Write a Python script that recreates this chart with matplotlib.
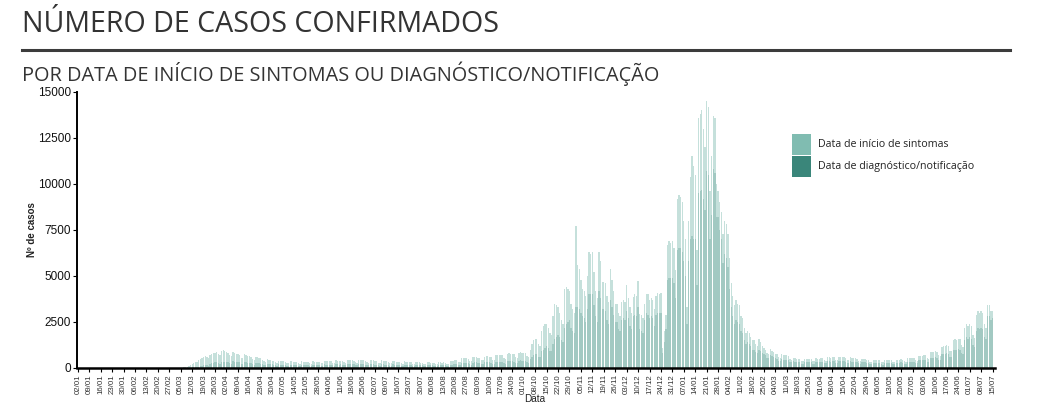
import numpy as np
import pandas as pd
import matplotlib
matplotlib.use('Agg')
import matplotlib.pyplot as plt
from matplotlib.patches import Rectangle
from matplotlib.lines import Line2D

start_date = '2020-01-02'

# Daily cases by date of symptom onset (one row per week, Thu..Wed)
sintomas = [
    0, 0, 0, 0, 0, 0, 0,
    0, 0, 0, 0, 0, 0, 0,
    0, 0, 0, 0, 0, 0, 0,
    0, 0, 0, 0, 0, 0, 0,
    0, 0, 0, 0, 0, 0, 0,
    0, 0, 0, 0, 0, 0, 0,
    0, 0, 0, 0, 0, 0, 0,
    0, 0, 0, 0, 0, 1, 0,
    1, 0, 2, 3, 5, 8, 10,
    15, 22, 30, 45, 70, 110, 150,
    210, 260, 300, 350, 430, 500, 560,
    620, 650, 600, 560, 720, 780, 800,
    820, 850, 760, 700, 930, 960, 900,
    880, 840, 720, 640, 860, 820, 780,
    760, 700, 560, 520, 740, 700, 660,
    640, 600, 500, 440, 620, 580, 560,
    520, 460, 380, 340, 480, 440, 420,
    400, 380, 300, 270, 400, 380, 360,
    360, 340, 270, 250, 380, 360, 340,
    340, 320, 260, 240, 360, 350, 330,
    330, 320, 250, 230, 360, 350, 330,
    350, 340, 270, 250, 390, 380, 360,
    380, 360, 290, 270, 420, 400, 380,
    400, 380, 300, 280, 450, 430, 410,
    420, 400, 310, 290, 460, 440, 420,
    410, 390, 300, 280, 450, 430, 410,
    380, 360, 290, 270, 420, 400, 380,
    360, 340, 270, 250, 390, 370, 350,
    340, 320, 260, 240, 370, 350, 330,
    320, 300, 240, 220, 340, 320, 300,
    290, 280, 220, 200, 320, 300, 290,
    280, 270, 210, 200, 310, 300, 290,
    300, 290, 230, 220, 360, 370, 380,
    420, 430, 350, 330, 520, 540, 550,
    520, 500, 400, 380, 580, 590, 600,
    560, 540, 430, 410, 620, 640, 630,
    600, 580, 460, 430, 680, 690, 680,
    700, 680, 540, 500, 780, 800, 780,
    760, 740, 580, 540, 840, 850, 820,
    820, 800, 640, 600, 1000, 1300, 1500,
    1600, 1550, 1300, 1200, 2000, 2300, 2400,
    2400, 2200, 1900, 1800, 2800, 3500, 3400,
    3300, 3000, 2600, 2400, 4300, 4400, 4300,
    4200, 3500, 3200, 3000, 7700, 5600, 5400,
    4800, 4300, 4200, 3900, 5000, 6300, 6200,
    6300, 5200, 4200, 3800, 6300, 5800, 4700,
    4700, 4600, 3900, 3600, 5400, 4800, 4200,
    3500, 3500, 3000, 2800, 3600, 3700, 3600,
    4500, 3800, 3300, 3000, 3850, 4000, 3900,
    4750, 2950, 2900, 2700, 3500, 4000, 4000,
    3700, 3800, 3700, 3200, 3900, 4100, 4000,
    4100, 1100, 2000, 2900, 6700, 6900, 6800,
    6900, 6500, 5300, 9200, 9400, 9300, 9000,
    8000, 7000, 3300, 8000, 10400, 11500, 11000,
    10500, 6400, 13600, 13800, 14000, 13000, 12000,
    14500, 14200, 9600, 11500, 13700, 13600, 10000,
    9600, 9000, 8500, 7300, 8000, 7800, 7300,
    6000, 4600, 3900, 3400, 3700, 3500, 3400,
    2800, 2700, 2200, 1900, 2000, 1900, 1700,
    1500, 1500, 1300, 1200, 1600, 1400, 1200,
    1100, 1000, 800, 740, 1050, 950, 850,
    780, 760, 600, 560, 780, 700, 690,
    690, 640, 500, 460, 560, 520, 500,
    500, 490, 380, 360, 510, 500, 490,
    500, 480, 380, 360, 520, 500, 490,
    560, 540, 420, 400, 600, 580, 560,
    600, 580, 460, 430, 620, 600, 580,
    600, 560, 440, 420, 580, 560, 540,
    540, 500, 400, 380, 500, 480, 470,
    450, 430, 340, 320, 440, 430, 420,
    420, 410, 320, 300, 430, 420, 410,
    420, 410, 330, 310, 460, 450, 440,
    480, 460, 360, 340, 540, 530, 520,
    560, 540, 430, 400, 640, 650, 640,
    700, 680, 540, 500, 850, 880, 860,
    900, 880, 700, 660, 1150, 1200, 1180,
    1250, 1200, 950, 900, 1500, 1550, 1500,
    1600, 1550, 1250, 1150, 2200, 2400, 2300,
    2400, 2300, 1800, 1650, 2900, 3100, 3000,
    3100, 3000, 2400, 2200, 3450, 3400, 3100,
    3100,
]

# Daily cases by date of diagnosis / notification
diagnostico = [
    0, 0, 0, 0, 0, 0, 0,
    0, 0, 0, 0, 0, 0, 0,
    0, 0, 0, 0, 0, 0, 0,
    0, 0, 0, 0, 0, 0, 0,
    0, 0, 0, 0, 0, 0, 0,
    0, 0, 0, 0, 0, 0, 0,
    0, 0, 0, 0, 0, 0, 0,
    0, 0, 0, 0, 0, 0, 0,
    0, 0, 0, 0, 0, 1, 1,
    2, 3, 5, 8, 12, 15, 20,
    30, 40, 50, 60, 80, 100, 130,
    150, 180, 150, 120, 220, 260, 280,
    300, 320, 250, 200, 330, 350, 340,
    350, 330, 260, 220, 360, 340, 320,
    320, 300, 230, 200, 320, 300, 290,
    280, 260, 200, 180, 280, 260, 250,
    240, 220, 170, 150, 230, 220, 210,
    200, 190, 150, 130, 200, 190, 180,
    180, 170, 130, 120, 190, 180, 170,
    170, 160, 120, 110, 180, 170, 160,
    170, 160, 120, 110, 180, 170, 160,
    180, 170, 130, 120, 200, 190, 180,
    190, 180, 140, 130, 210, 200, 190,
    200, 190, 150, 140, 230, 220, 210,
    210, 200, 150, 140, 230, 220, 210,
    200, 190, 150, 140, 220, 210, 200,
    190, 180, 140, 130, 210, 200, 190,
    180, 170, 130, 120, 200, 190, 180,
    170, 160, 120, 110, 190, 180, 170,
    160, 150, 110, 100, 170, 160, 150,
    150, 140, 110, 100, 160, 150, 140,
    140, 130, 100, 90, 150, 140, 140,
    150, 140, 110, 100, 180, 190, 200,
    210, 220, 170, 160, 260, 270, 280,
    260, 250, 200, 190, 290, 300, 300,
    280, 270, 210, 200, 310, 320, 320,
    300, 290, 230, 210, 340, 350, 340,
    330, 320, 250, 230, 380, 390, 380,
    360, 350, 270, 250, 400, 410, 400,
    400, 390, 310, 290, 480, 600, 700,
    780, 750, 620, 580, 900, 1000, 1100,
    1200, 1100, 950, 900, 1300, 1600, 1700,
    1800, 1700, 1500, 1400, 2200, 2400, 2500,
    2600, 2200, 2000, 1900, 3300, 3300, 3200,
    3000, 2800, 2700, 2500, 3200, 4000, 4000,
    4000, 3400, 2800, 2500, 4200, 3800, 3200,
    3200, 3100, 2600, 2400, 3700, 3300, 2900,
    2500, 2500, 2100, 2000, 2600, 2700, 2600,
    3100, 2700, 2300, 2100, 2800, 2900, 2800,
    3300, 2100, 2000, 1900, 2600, 3000, 2900,
    2700, 2800, 2700, 2300, 2900, 3000, 3000,
    3000, 800, 1400, 2100, 4800, 4900, 4900,
    4900, 4600, 3800, 6400, 6500, 6500, 6300,
    5800, 5000, 2400, 5800, 7000, 7200, 7000,
    7000, 4500, 9500, 9600, 9700, 9200, 8600,
    10700, 10500, 7000, 8300, 10800, 10600, 8200,
    8200, 7500, 7000, 5700, 6200, 6000, 5500,
    4300, 3300, 2800, 2400, 2600, 2500, 2400,
    2000, 1900, 1500, 1300, 1400, 1300, 1200,
    1000, 1000, 850, 800, 1000, 900, 800,
    750, 700, 560, 520, 700, 650, 580,
    520, 500, 400, 370, 510, 460, 450,
    440, 410, 320, 300, 360, 340, 320,
    320, 310, 240, 230, 330, 320, 310,
    320, 300, 240, 230, 330, 320, 310,
    350, 340, 260, 250, 380, 370, 350,
    380, 370, 290, 270, 390, 380, 370,
    380, 350, 280, 260, 370, 350, 340,
    340, 320, 250, 240, 320, 300, 300,
    290, 270, 210, 200, 280, 270, 270,
    270, 260, 200, 190, 270, 270, 260,
    270, 260, 210, 200, 290, 290, 280,
    300, 290, 230, 210, 340, 340, 330,
    350, 340, 270, 250, 410, 420, 410,
    450, 430, 340, 320, 550, 570, 550,
    580, 560, 450, 420, 750, 780, 760,
    800, 780, 610, 580, 980, 1000, 980,
    1050, 1000, 800, 750, 1500, 1700, 1600,
    1700, 1600, 1250, 1150, 2000, 2200, 2100,
    2200, 2100, 1700, 1550, 2800, 2800, 2600,
    2700,
]

y_ticks = [0, 2500, 5000, 7500, 10000, 12500, 15000]
title = 'NÚMERO DE CASOS CONFIRMADOS'
subtitle = 'POR DATA DE INÍCIO DE SINTOMAS OU DIAGNÓSTICO/NOTIFICAÇÃO'
legend_labels = ['Data de início de sintomas', 'Data de diagnóstico/notificação']
x_label = 'Data'
y_label = 'Nº de casos'

c_light = '#80bcb1'
c_dark = '#3a867a'

dates = pd.date_range(start_date, periods=len(sintomas), freq='D')
x = np.arange(len(dates))
tick_idx = np.arange(0, len(dates), 7)
tick_labels = [dates[i].strftime('%d/%m') for i in tick_idx]

W, H = 1043, 404
fig = plt.figure(figsize=(W / 100, H / 100), dpi=100)
fig.patch.set_facecolor('white')

ax = fig.add_axes([77 / W, 36 / H, 918 / W, 276 / H])
ax.bar(x, sintomas, width=0.8, color=c_light, alpha=0.45, linewidth=0)
ax.bar(x, diagnostico, width=0.8, color=c_dark, alpha=0.25, linewidth=0)

ax.set_xlim(-0.5, 561.5)
ax.set_ylim(0, 15000)
ax.set_yticks(y_ticks)
ax.set_yticklabels([str(v) for v in y_ticks], fontsize=8.5,
                   family='Liberation Sans', color='#111111')
ax.set_xticks(tick_idx)
ax.set_xticklabels(tick_labels, rotation=90, fontsize=5.7,
                   family='Liberation Sans', color='#333333')
ax.tick_params(axis='both', length=3, width=0.8, color='black', pad=1.5)
for s in ['top', 'right']:
    ax.spines[s].set_visible(False)
ax.spines['left'].set_linewidth(1.4)
ax.spines['bottom'].set_linewidth(1.8)

fig.text(535 / W, 1 - 399.5 / H, x_label, ha='center', va='center',
         fontsize=7.2, family='Liberation Sans', color='#222222')
fig.text(32 / W, 1 - 230 / H, y_label, ha='center', va='center', rotation=90,
         fontsize=7, family='Liberation Sans', weight='bold', color='#222222')

# Title, rule and subtitle
fig.text(22 / W, 1 - 25 / H, title, ha='left', va='center', fontsize=20.6,
         family='Open Sans', color='#333333')
fig.add_artist(Line2D([22 / W, 1010 / W], [1 - 50 / H, 1 - 50 / H],
                      color='#3c3c3c', linewidth=2.2))
fig.text(22 / W, 1 - 74 / H, subtitle, ha='left', va='center', fontsize=14.3,
         family='Open Sans', color='#333333')

# Legend
for i, (lab, col) in enumerate(zip(legend_labels, [c_light, c_dark])):
    top = 134 + i * 22
    fig.add_artist(Rectangle((792 / W, 1 - (top + 21) / H), 19 / W, 21 / H,
                             transform=fig.transFigure, facecolor=col,
                             edgecolor='none'))
    fig.text(818 / W, 1 - (top + 10.5) / H, lab, ha='left', va='center',
             fontsize=7.7, family='Open Sans', color='#222222')

fig.savefig('out.png', dpi=100)
